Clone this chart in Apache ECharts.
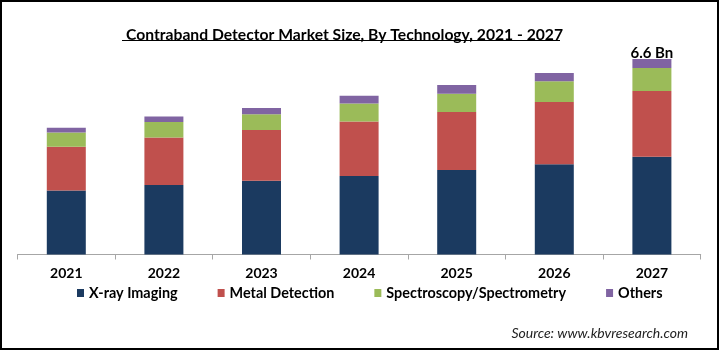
<!DOCTYPE html>
<html lang="en" style="height: 100%">
<head>
  <meta charset="utf-8">
  <title>contraband-detector</title>
</head>
<body style="height: 100%; margin: 0">
  <div id="container" style="width: 720px;height: 351px"></div>

  <script type="text/javascript" src="https://cdn.jsdelivr.net/npm/echarts@6/dist/echarts.min.js"></script>

  <script type="text/javascript">
    var dom = document.getElementById('container');
    var myChart = echarts.init(dom, null, { renderer: 'canvas' });

    // values in USD Bn
    const years = ['2021', '2022', '2023', '2024', '2025', '2026', '2027'];
    const xray = [2.16, 2.35, 2.49, 2.65, 2.85, 3.05, 3.30];
    const metal = [1.48, 1.60, 1.71, 1.84, 1.96, 2.10, 2.22];
    const spectro = [0.48, 0.52, 0.54, 0.61, 0.62, 0.70, 0.78];
    const others = [0.16, 0.19, 0.21, 0.26, 0.29, 0.28, 0.30];
    const lastLabel = '6.6 Bn';

    const font = 'Lato, "Open Sans", sans-serif';

    var option = {
      animation: false,
      title: {
        text: 'Contraband Detector Market Size, By Technology, 2021 - 2027',
        left: 121,
        top: 22,
        textStyle: { fontFamily: font, fontSize: 15.7, fontWeight: 'bold', color: '#000' }
      },
      legend: {
        left: 72,
        top: 281,
        itemWidth: 7,
        itemHeight: 8,
        itemGap: 40,
        icon: 'rect',
        textStyle: { fontFamily: font, fontSize: 14.4, fontWeight: 'bold', color: '#000' }
      },
      grid: { left: 17.5, right: 19.3, top: 47.2, bottom: 96.5 },
      xAxis: {
        type: 'category',
        data: years,
        axisLine: { lineStyle: { color: '#a6a6a6', width: 1 } },
        axisTick: { show: true, length: 5, lineStyle: { color: '#a6a6a6' } },
        axisLabel: { margin: 12, fontFamily: font, fontSize: 14, fontWeight: 'bold', color: '#000' }
      },
      yAxis: { type: 'value', min: 0, max: 7, show: false, splitLine: { show: false } },
      series: [
        { name: 'X-ray Imaging', type: 'bar', stack: 't', barWidth: 39, data: xray, itemStyle: { color: '#1b3a60' } },
        { name: 'Metal Detection', type: 'bar', stack: 't', data: metal, itemStyle: { color: '#c0504d' } },
        { name: 'Spectroscopy/Spectrometry', type: 'bar', stack: 't', data: spectro, itemStyle: { color: '#9bbb59' } },
        {
          name: 'Others', type: 'bar', stack: 't', itemStyle: { color: '#8064a2' },
          data: others.map(function (v, i) {
            if (i === others.length - 1) {
              return {
                value: v,
                label: {
                  show: true, position: 'top', distance: -2, formatter: lastLabel,
                  fontFamily: font, fontSize: 15, fontWeight: 'bold', color: '#000'
                }
              };
            }
            return v;
          })
        }
      ],
      graphic: [
        { type: 'line', shape: { x1: 122, y1: 40.5, x2: 560, y2: 40.5 }, style: { stroke: '#000', lineWidth: 1 } },
        {
          type: 'text', right: 32, top: 326,
          style: { text: 'Source: www.kbvresearch.com', font: 'italic 14px ' + font, fill: '#222' }
        },
        { type: 'rect', shape: { x: 1, y: 1, width: 717, height: 348 }, style: { fill: 'none', stroke: '#000', lineWidth: 2 } }
      ]
    };

    myChart.setOption(option);
    window.addEventListener('resize', myChart.resize);
  </script>
</body>
</html>
